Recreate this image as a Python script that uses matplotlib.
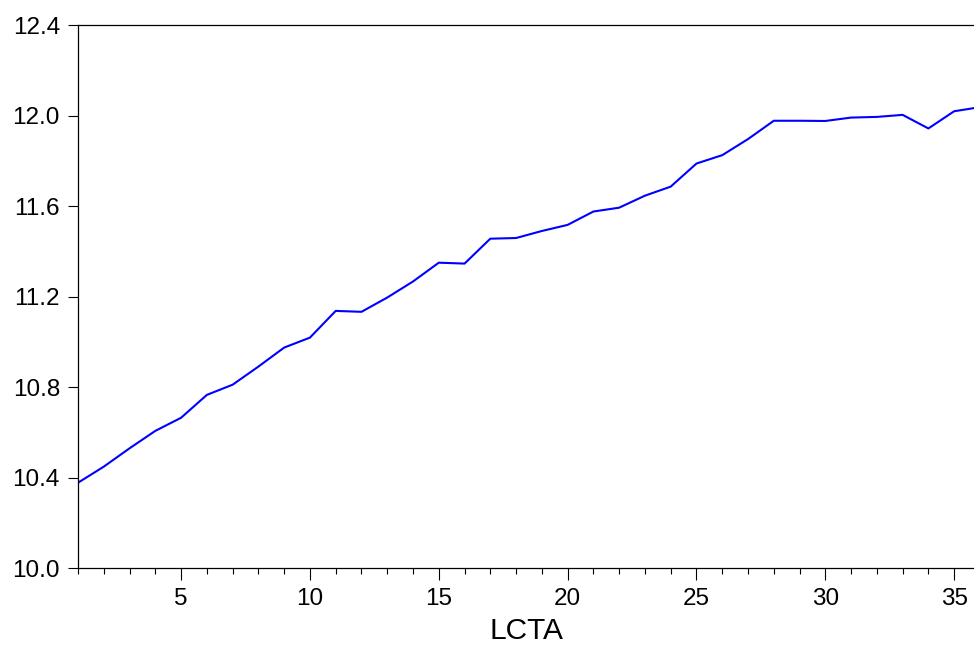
import matplotlib
matplotlib.use("Agg")
from matplotlib import pyplot
from matplotlib.ticker import MultipleLocator, FormatStrFormatter

obs = list(range(1, 37))
lcta = [10.378, 10.449, 10.530, 10.607, 10.665, 10.766, 10.811, 10.891, 10.975, 11.019,
        11.137, 11.133, 11.196, 11.267, 11.350, 11.346, 11.456, 11.459, 11.490, 11.517,
        11.576, 11.593, 11.646, 11.686, 11.788, 11.825, 11.896, 11.977, 11.977, 11.976,
        11.991, 11.994, 12.003, 11.943, 12.019, 12.037]
y_ticks = [10.0, 10.4, 10.8, 11.2, 11.6, 12.0, 12.4]
x_label = "LCTA"

pyplot.rcParams['font.family'] = ['Liberation Sans', 'DejaVu Sans']

fig = pyplot.figure(figsize=(9.74, 6.46), dpi=100)
ax = fig.add_axes([0.0801, 0.1203, 0.9199, 0.8410])

ax.plot(obs, lcta, color=(0, 0, 1), linewidth=1.5, clip_on=True)

ax.set_xlim(1, 35.77)
ax.set_ylim(10.0, 12.4)
ax.set_yticks(y_ticks)
ax.yaxis.set_major_formatter(FormatStrFormatter('%.1f'))
ax.xaxis.set_major_locator(MultipleLocator(5))
ax.xaxis.set_minor_locator(MultipleLocator(1))

for side in ["left", "bottom", "top"]:
    ax.spines[side].set_linewidth(0.9)
ax.spines["right"].set_visible(False)

ax.tick_params(axis='y', which='major', direction='out', length=7, width=0.8, pad=6,
               labelsize=17.5)
ax.tick_params(axis='x', which='major', direction='out', length=8.5, width=0.8, pad=6,
               labelsize=17.5)
ax.tick_params(axis='x', which='minor', direction='out', length=4.3, width=0.8)

ax.set_xlabel(x_label, fontsize=21.5, labelpad=5)

fig.savefig("out.png", dpi=100)
